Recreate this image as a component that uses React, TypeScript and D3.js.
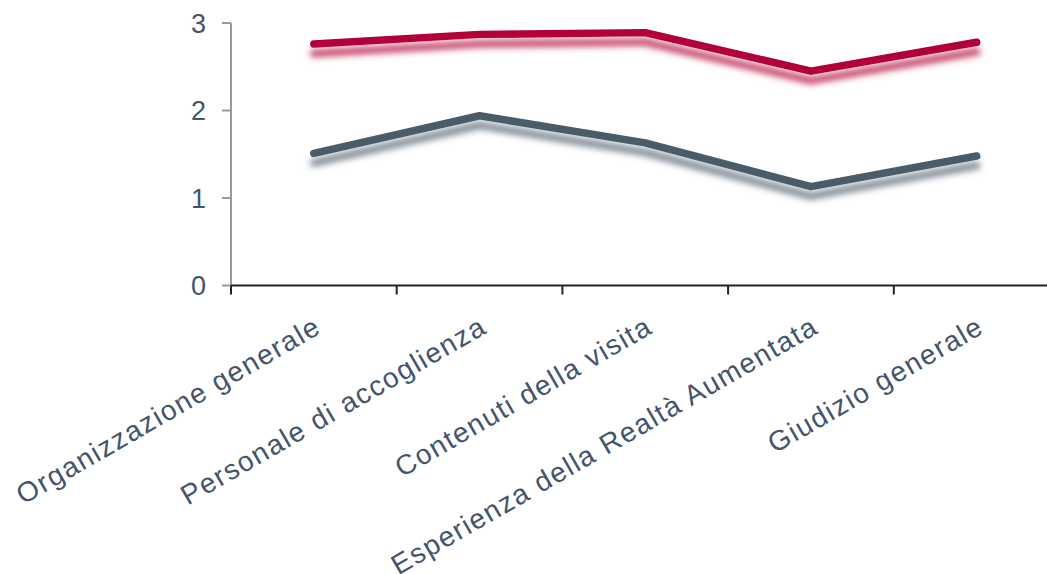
import React from "react";
import * as d3 from "d3";

const categories = [
  "Organizzazione generale",
  "Personale di accoglienza",
  "Contenuti della visita",
  "Esperienza della Realtà Aumentata",
  "Giudizio generale",
];
const seriesRed = [2.76, 2.87, 2.89, 2.45, 2.78];
const seriesGray = [1.51, 1.94, 1.63, 1.13, 1.48];
const yTicks = [0, 1, 2, 3];

const W = 1047;
const H = 574;
const M = { left: 231, top: 23, bottom: 285.5 };
const bandW = 165.7;

export default function App() {
  const x = d3
    .scaleBand<string>()
    .domain(categories)
    .range([M.left, M.left + bandW * categories.length])
    .paddingInner(0)
    .paddingOuter(0);
  const y = d3.scaleLinear().domain([0, 3]).range([M.bottom, M.top]);
  const line = d3
    .line<number>()
    .x((_, i) => (x(categories[i]) as number) + x.bandwidth() / 2)
    .y((d) => y(d));

  const series = [
    { values: seriesRed, color: "#B2003A", shadow: "#C0305C", op: 0.9 },
    { values: seriesGray, color: "#4A5B69", shadow: "#6F7D89", op: 0.9 },
  ];
  const labelColor = "#44546A";
  const font = "'Liberation Sans', Arial, sans-serif";

  return (
    <svg
      width={W}
      height={H}
      style={{ position: "absolute", left: 0, top: 0, display: "block", background: "#fff" }}
    >
      <defs>
        {series.map((s, i) => (
          <filter id={`sh${i}`} key={i} x="-10%" y="-50%" width="120%" height="200%">
            <feDropShadow dx="0" dy="9.5" stdDeviation="3.3" floodColor={s.shadow} floodOpacity={s.op} />
          </filter>
        ))}
      </defs>
      {/* Y axis */}
      <line x1={M.left} x2={M.left} y1={M.top} y2={M.bottom} stroke="#9A9A9A" strokeWidth={2} />
      {yTicks.map((t) => (
        <g key={t}>
          <line x1={M.left - 9} x2={M.left} y1={y(t)} y2={y(t)} stroke="#9A9A9A" strokeWidth={2} />
          <text
            x={M.left - 25}
            y={y(t)}
            dy="0.36em"
            textAnchor="end"
            fontFamily={font}
            fontSize={27}
            fill={labelColor}
          >
            {t}
          </text>
        </g>
      ))}
      {/* X axis */}
      <line x1={M.left} x2={W} y1={M.bottom} y2={M.bottom} stroke="#222" strokeWidth={2} />
      {categories.map((c) => (
        <line
          key={c}
          x1={x(c) as number}
          x2={x(c) as number}
          y1={M.bottom}
          y2={M.bottom + 9}
          stroke="#222"
          strokeWidth={2}
        />
      ))}
      {categories.map((c) => {
        const cx = (x(c) as number) + x.bandwidth() / 2 + 9;
        const cy = 332;
        return (
          <text
            key={c}
            transform={`translate(${cx},${cy}) rotate(-30)`}
            textAnchor="end"
            fontFamily={font}
            fontSize={28}
            letterSpacing={1.5}
            fill={labelColor}
          >
            {c}
          </text>
        );
      })}
      {/* lines */}
      {series.map((s, i) => (
        <path
          key={i}
          d={line(s.values) as string}
          fill="none"
          stroke={s.color}
          strokeWidth={7.5}
          strokeLinecap="round"
          strokeLinejoin="round"
          filter={`url(#sh${i})`}
        />
      ))}
    </svg>
  );
}
